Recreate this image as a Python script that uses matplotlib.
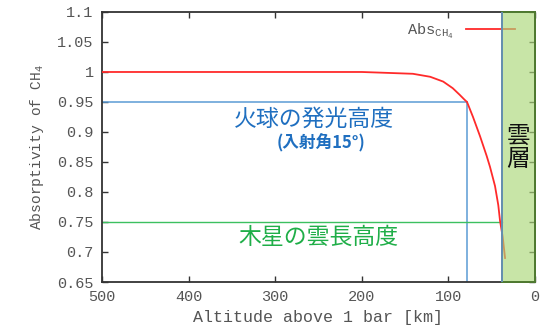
import matplotlib
matplotlib.use("Agg")
import matplotlib.pyplot as plt
from matplotlib.patches import Rectangle

# 高度 [km] と CH4 吸収率
alt_km = [500, 400, 300, 200, 180, 141, 121, 106, 95, 87, 81.5, 78.5, 71.6, 63.5,
          55.8, 52, 46.2, 42.4, 40.4, 37.3, 34.6]
abs_ch4 = [1.0, 1.0, 1.0, 1.0, 0.999, 0.997, 0.992, 0.984, 0.973, 0.962, 0.954, 0.950,
           0.925, 0.893, 0.860, 0.842, 0.810, 0.778, 0.752, 0.725, 0.690]

fireball_alt = 78      # 火球の発光高度 [km]
fireball_abs = 0.95
cloud_abs = 0.75       # 木星の雲長高度
cloud_top = 38.5       # 雲層の上端 [km]

xticks = [500, 400, 300, 200, 100, 0]
yticks = [0.65, 0.7, 0.75, 0.8, 0.85, 0.9, 0.95, 1.0, 1.05, 1.1]
ytick_labels = ['0.65', '0.7', '0.75', '0.8', '0.85', '0.9', '0.95', '1', '1.05', '1.1']

mono = 'Liberation Mono'
jp = ['Noto Sans CJK JP', 'DejaVu Sans']

fig = plt.figure(figsize=(5.51, 3.32), dpi=100)
ax = fig.add_axes([0.185, 0.1506, 0.786, 0.8133])

ax.plot(alt_km, abs_ch4, '-', color='#ff2a2a', lw=1.3, label='Abs$_{\\mathregular{CH_4}}$', zorder=3)

# 火球の発光高度（青）
ax.plot([500, fireball_alt], [fireball_abs, fireball_abs], color='#5b9bd5', lw=1.1, zorder=2)
ax.plot([fireball_alt, fireball_alt], [0.65, fireball_abs], color='#5b9bd5', lw=1.1, zorder=2)
# 木星の雲長高度（緑）
ax.plot([500, cloud_top], [cloud_abs, cloud_abs], color='#3cc060', lw=1.0, zorder=2)

ax.set_xlim(500, 0)
ax.set_ylim(0.65, 1.1)

# 雲層
ax.add_patch(Rectangle((cloud_top, 0.65), -cloud_top, 0.45, facecolor='#abd779',
                       alpha=0.65, edgecolor='none', zorder=6))
ax.add_patch(Rectangle((cloud_top, 0.65), -cloud_top, 0.45, facecolor='none',
                       edgecolor='#4f7a30', lw=1.4, zorder=7, clip_on=False))
ax.plot([cloud_top, cloud_top], [0.65, 1.1], color='#6a93c8', lw=1.2, zorder=8)
ax.text(cloud_top / 2, 0.873, '雲\n層', family=jp, fontsize=17, ha='center', va='center',
        linespacing=1.0, color='#111111', zorder=9)

ax.text(255, 0.922, '火球の発光高度', family=jp, fontsize=16.5, color='#1f6fc0',
        ha='center', va='center')
ax.text(247, 0.882, '(入射角15°)', family=jp, fontsize=12, fontweight='bold',
        color='#1f6fc0', ha='center', va='center')
ax.text(250, 0.724, '木星の雲長高度', family=jp, fontsize=16.5, color='#1fae48',
        ha='center', va='center')

ax.set_xticks(xticks)
ax.set_yticks(yticks)
ax.set_yticklabels(ytick_labels)
ax.tick_params(direction='in', top=True, right=True, length=4, width=1,
               colors='#333333', labelcolor='#555555', labelsize=11, pad=6)
for lab in ax.get_xticklabels() + ax.get_yticklabels():
    lab.set_family(mono)
for s in ax.spines.values():
    s.set_color('#333333')
    s.set_linewidth(1.3)

ax.set_xlabel('Altitude above 1 bar [km]', family=mono, fontsize=12, color='#555555', labelpad=4)
ax.set_ylabel('Absorptivity of CH$_\\mathregular{4}$', family=mono, fontsize=10.5, color='#555555', labelpad=8)

leg = ax.legend(loc='upper right', bbox_to_anchor=(0.975, 1.0), frameon=False, markerfirst=False,
                prop={'family': mono, 'size': 11}, handlelength=3.2, borderaxespad=0.2)
for t in leg.get_texts():
    t.set_color('#555555')
leg.set_zorder(4)

fig.savefig('out.png', dpi=100)
